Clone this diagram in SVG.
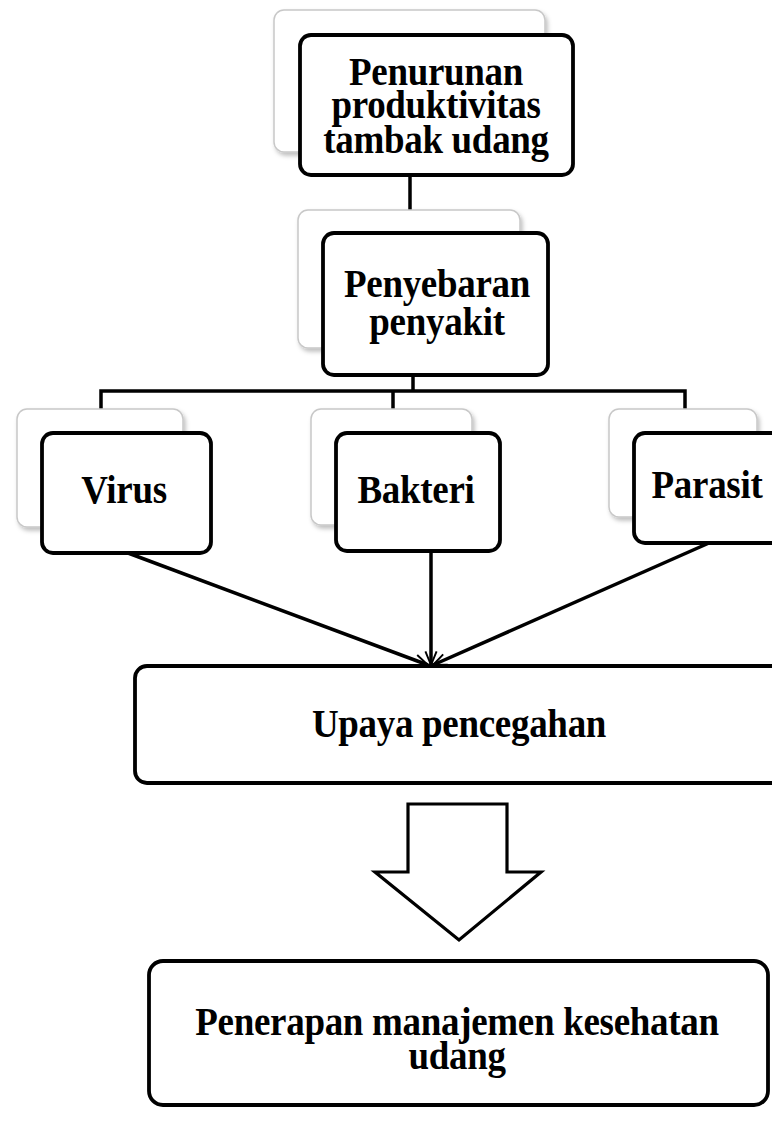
<svg xmlns="http://www.w3.org/2000/svg" width="772" height="1122" viewBox="0 0 772 1122">
<style>
.back{fill:#fff;stroke:#c8c8c8;stroke-width:1.5}
.front{fill:#fff;stroke:#000;stroke-width:3.8}
.t{font-family:"Liberation Serif","Times New Roman",serif;font-weight:bold;font-size:37px;fill:#000;text-anchor:middle;letter-spacing:-0.3px}
.c{fill:none;stroke:#000;stroke-width:3.5}
</style>
<defs>
<filter id="sh" x="-10%" y="-10%" width="130%" height="130%">
<feDropShadow dx="2" dy="3" stdDeviation="2" flood-color="#000" flood-opacity="0.25"/>
</filter>
<marker id="ah2" viewBox="0 0 20 20" refX="19" refY="10" markerWidth="16" markerHeight="16" orient="auto" markerUnits="userSpaceOnUse">
<path d="M2,3 L19,10 L2,17" fill="none" stroke="#000" stroke-width="2.4"/>
</marker>
</defs>
<g id="connectors">
<line class="c" x1="410" y1="175" x2="410" y2="210"/>
<line class="c" x1="413" y1="375" x2="413" y2="391"/>
<polyline class="c" points="101,409 101,391 685,391 685,409"/>
<line class="c" x1="393" y1="391" x2="393" y2="409"/>
<line class="c" x1="128" y1="553" x2="428" y2="665" marker-end="url(#ah2)"/>
<line class="c" x1="431" y1="551" x2="431" y2="665" marker-end="url(#ah2)"/>
<line class="c" x1="709" y1="543" x2="433" y2="665" marker-end="url(#ah2)"/>
<path id="blockarrow" d="M408,804 L507,804 L507,872 L541,872 L459,940 L375,872 L408,872 Z" fill="#fff" stroke="#000" stroke-width="3.2"/>
</g>
<g id="node-penurunan">
<rect class="back" x="274" y="10" width="271" height="142" rx="10" filter="url(#sh)"/>
<rect class="front" x="300" y="35" width="273" height="140" rx="11"/>
<text class="t" transform="translate(436,85) scale(1,1.1)">Penurunan</text>
<text class="t" transform="translate(436,118) scale(1,1.1)">produktivitas</text>
<text class="t" transform="translate(436,153) scale(1,1.1)">tambak udang</text>
</g>
<g id="node-penyebaran">
<rect class="back" x="298" y="210" width="222" height="138" rx="10" filter="url(#sh)"/>
<rect class="front" x="323" y="233" width="225" height="142" rx="11"/>
<text class="t" transform="translate(437,297) scale(1,1.1)">Penyebaran</text>
<text class="t" transform="translate(437,335) scale(1,1.1)">penyakit</text>
</g>
<g id="node-virus">
<rect class="back" x="17" y="409" width="166" height="118" rx="10" filter="url(#sh)"/>
<rect class="front" x="42" y="433" width="169" height="120" rx="11"/>
<text class="t" transform="translate(124,503) scale(1,1.1)">Virus</text>
</g>
<g id="node-bakteri">
<rect class="back" x="311" y="409" width="161" height="116" rx="10" filter="url(#sh)"/>
<rect class="front" x="336" y="433" width="164" height="118" rx="11"/>
<text class="t" transform="translate(416,503) scale(1,1.1)">Bakteri</text>
</g>
<g id="node-parasit">
<rect class="back" x="609" y="409" width="148" height="108" rx="10" filter="url(#sh)"/>
<rect class="front" x="634" y="433" width="150" height="110" rx="11"/>
<text class="t" transform="translate(707,498) scale(1,1.1)">Parasit</text>
</g>
<g id="node-upaya">
<rect class="front" x="135" y="666" width="650" height="117" rx="12"/>
<text class="t" transform="translate(459,737) scale(1,1.1)">Upaya pencegahan</text>
</g>
<g id="node-penerapan">
<rect class="front" x="149" y="961" width="619" height="144" rx="14"/>
<text class="t" transform="translate(457,1035) scale(1,1.1)">Penerapan manajemen kesehatan</text>
<text class="t" transform="translate(457,1069) scale(1,1.1)">udang</text>
</g>
</svg>
